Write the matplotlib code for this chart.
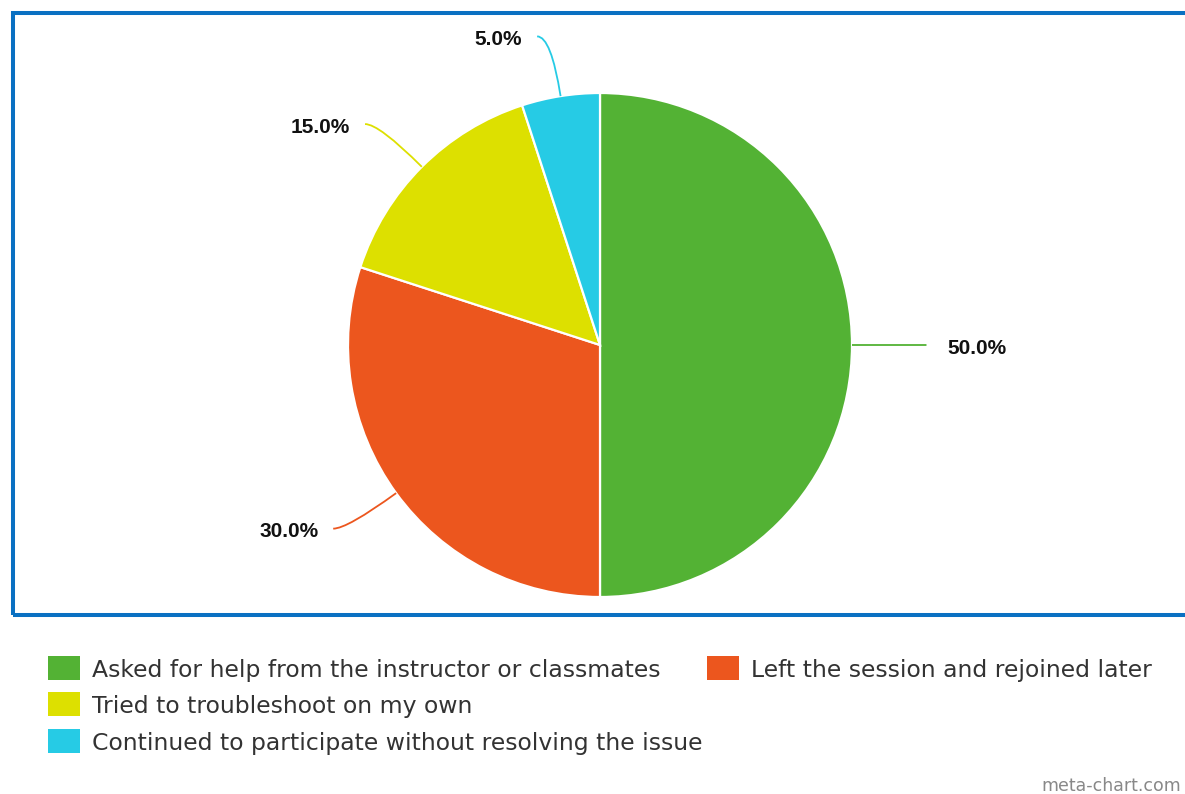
import matplotlib
matplotlib.use("Agg")
import numpy as np
import matplotlib.pyplot as plt
from matplotlib.patches import Rectangle, PathPatch
from matplotlib.path import Path

categories = [
    "Asked for help from the instructor or classmates",
    "Left the session and rejoined later",
    "Tried to troubleshoot on my own",
    "Continued to participate without resolving the issue",
]
values = [50.0, 30.0, 15.0, 5.0]
colors = ["#53b234", "#ec561e", "#dde000", "#26cbe5"]

W, H = 1185, 794


def py(y):
    # pixel row (top down) -> data y (bottom up)
    return H - y


fig = plt.figure(figsize=(W / 100, H / 100), dpi=100)
ax = fig.add_axes([0, 0, 1, 1])

cx, cy, r = 600, py(345), 252
wedges, _ = ax.pie(
    values,
    colors=colors,
    startangle=90,
    counterclock=False,
    center=(cx, cy),
    radius=r,
    wedgeprops=dict(edgecolor="white", linewidth=1.6),
)
ax.set_aspect("auto")
ax.set_xlim(0, W)
ax.set_ylim(0, H)
ax.axis("off")

# leader lines + percentage labels
for w, v, c in zip(wedges, values, colors):
    mid = np.deg2rad((w.theta1 + w.theta2) / 2)
    dx, dy = np.cos(mid), np.sin(mid)
    start = (cx + r * dx, cy + r * dy)
    elbow = (cx + 1.24 * r * dx, cy + 1.24 * r * dy)
    side = 1 if dx >= 0 else -1
    end = (elbow[0] + side * 14, elbow[1])
    path = Path([start, elbow, end], [Path.MOVETO, Path.CURVE3, Path.CURVE3])
    ax.add_patch(PathPatch(path, facecolor="none", edgecolor=c, lw=1.3))
    gap = 21 if side > 0 else 15
    ax.text(
        end[0] + side * gap,
        end[1] - 3,
        f"{v:.1f}%",
        ha="left" if side > 0 else "right",
        va="center",
        fontsize=15,
        fontweight="bold",
        family="Liberation Sans",
        color="#111111",
    )

# outer frame
ax.add_patch(
    Rectangle((12.5, py(615)), 1200, 602.5, fill=False,
              edgecolor="#0a70c2", lw=2.9, clip_on=False)
)

# legend
legend_pos = [(48, 668), (707, 668), (48, 704), (48, 741)]
for (lx, ly), lab, c in zip(legend_pos, categories, colors):
    ax.add_patch(Rectangle((lx, py(ly + 12)), 32, 24, facecolor=c,
                           edgecolor="none", clip_on=False))
    ax.text(lx + 44, py(ly + 9), lab, ha="left", va="baseline",
            fontsize=16.9, family="DejaVu Sans", color="#333333")

ax.text(1181, py(791), "meta-chart.com", ha="right", va="baseline",
        fontsize=12.5, family="DejaVu Sans", color="#888888")

fig.savefig("out.png", dpi=100)
